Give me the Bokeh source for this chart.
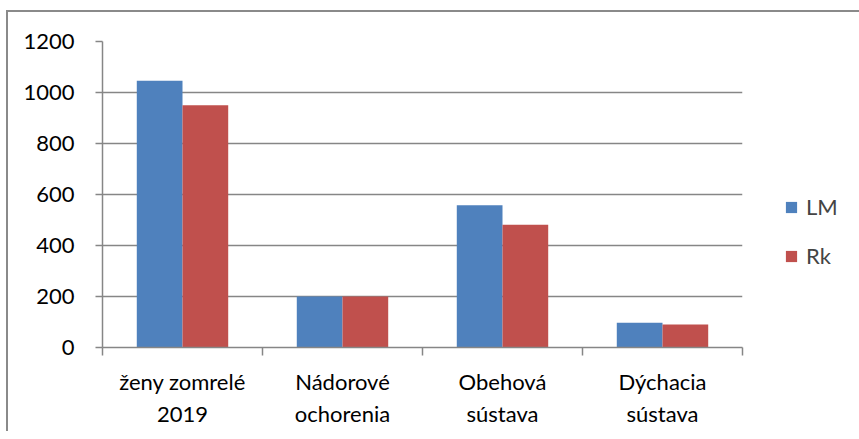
from bokeh.plotting import figure
from bokeh.models import (Range1d, FixedTicker, Legend, LegendItem)
from bokeh.embed import file_html
from bokeh.resources import INLINE

categories = ["ženy zomrelé\n2019", "Nádorové\nochorenia", "Obehová\nsústava", "Dýchacia\nsústava"]
series_names = ["LM", "Rk"]
lm_values = [1046, 200, 558, 97]
rk_values = [950, 200, 481, 90]
y_ticks = [0, 200, 400, 600, 800, 1000, 1200]

colors = ["#4F81BD", "#C0504D"]
FONT = "Lato"
GRID = "#868686"

p = figure(frame_width=640, frame_height=306, output_backend="svg", toolbar_location=None,
           x_range=Range1d(0, len(categories)), y_range=Range1d(0, 1200),
           min_border_left=94, min_border_right=10, min_border_top=29, min_border_bottom=84)
p.styles = {"border-top": "2px solid #8a8a8a", "border-left": "2px solid #8a8a8a",
            "margin-top": "10px", "margin-left": "6px"}
p.outline_line_color = None
p.background_fill_color = "white"
p.border_fill_color = "white"

n = len(series_names)
bar_w = 1.0 / (n + 1.5)
centers = [i + 0.5 for i in range(len(categories))]
renderers = []
for k, (vals, col) in enumerate(zip([lm_values, rk_values], colors)):
    xs = [c + (k - (n - 1) / 2) * bar_w for c in centers]
    r = p.vbar(x=xs, top=vals, width=bar_w, bottom=0, fill_color=col, line_color=None)
    renderers.append(r)

# y axis
p.yaxis.ticker = FixedTicker(ticks=y_ticks)
p.yaxis.axis_line_color = GRID
p.yaxis.axis_line_width = 1.5
p.yaxis.major_tick_line_color = GRID
p.yaxis.major_tick_line_width = 1.5
p.yaxis.major_tick_out = 7
p.yaxis.major_tick_in = 0
p.yaxis.minor_tick_line_color = None
p.yaxis.major_label_standoff = 21
p.yaxis.major_label_text_font = FONT
p.yaxis.major_label_text_font_size = "22px"
p.yaxis.major_label_text_color = "black"

# x axis
p.xaxis.ticker = FixedTicker(ticks=centers, minor_ticks=list(range(len(categories) + 1)))
p.xaxis.major_label_overrides = {c: lab for c, lab in zip(centers, categories)}
p.xaxis.axis_line_color = GRID
p.xaxis.axis_line_width = 1.5
p.xaxis.major_tick_line_color = None
p.xaxis.minor_tick_line_color = GRID
p.xaxis.minor_tick_line_width = 1.5
p.xaxis.minor_tick_out = 8
p.xaxis.minor_tick_in = 0
p.xaxis.major_label_standoff = 12
p.xaxis.major_label_text_font = FONT
p.xaxis.major_label_text_font_size = "22px"
p.xaxis.major_label_text_color = "black"

p.xgrid.grid_line_color = None
p.ygrid.ticker = FixedTicker(ticks=y_ticks)
p.ygrid.grid_line_color = GRID
p.ygrid.grid_line_width = 1.5

legend = Legend(items=[LegendItem(label=s, renderers=[r]) for s, r in zip(series_names, renderers)],
                location=(42, 78), glyph_width=14, glyph_height=14, label_standoff=8,
                spacing=22, padding=0, margin=0, border_line_color=None, background_fill_alpha=0,
                label_text_font=FONT, label_text_font_size="22px")
p.add_layout(legend, "right")

open("out.html", "w").write(file_html(p, INLINE))
